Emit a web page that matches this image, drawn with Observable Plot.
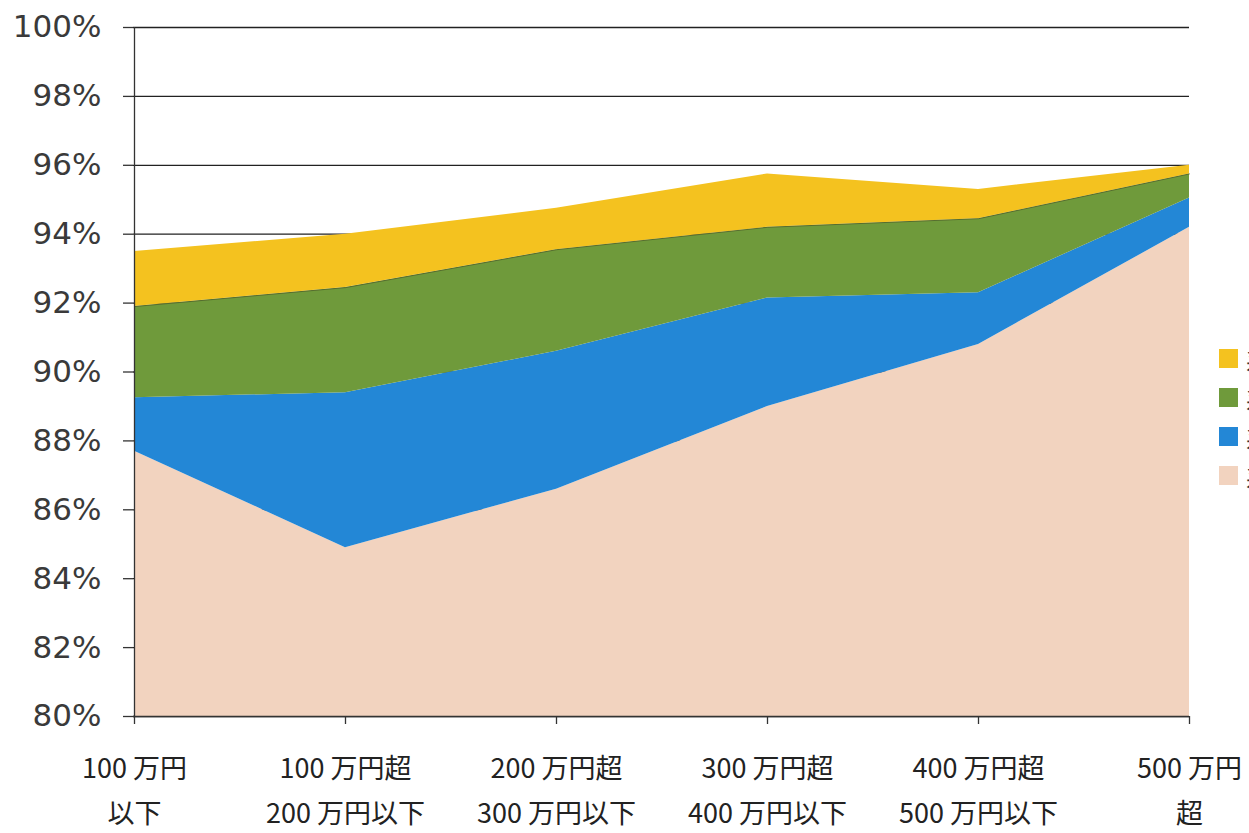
<!DOCTYPE html>
<html>
<head>
<meta charset="utf-8">
<script src="https://cdn.jsdelivr.net/npm/d3@7"></script>
<script src="https://cdn.jsdelivr.net/npm/@observablehq/plot@0.6"></script>
<style>
  html, body { margin: 0; padding: 0; background: #fff; overflow: hidden; width: 1249px; height: 833px; }
  #wrap { position: relative; width: 1249px; height: 833px; }
  #legend { position: absolute; left: 1219px; top: 339px; font-family: "Noto Sans CJK JP", sans-serif; font-size: 22px; color: #333; white-space: nowrap; }
  #legend .row { display: flex; align-items: center; height: 39px; }
  #legend .sw { width: 19px; height: 19px; margin-right: 8px; flex: none; }
</style>
</head>
<body>
<div id="wrap"><div id="chart"></div><div id="legend"></div></div>
<script>
const categories = ["100 万円\n以下", "100 万円超\n200 万円以下", "200 万円超\n300 万円以下", "300 万円超\n400 万円以下", "400 万円超\n500 万円以下", "500 万円\n超"];
// series from bottom to top of the stack
const seriesNames = ["系列1", "系列2", "系列3", "系列4"];
const seriesColors = ["#f2d3bf", "#2387d6", "#6f9a3b", "#f4c21f"];
const s1 = [87.7, 84.9, 86.6, 89.0, 90.8, 94.2];
const s2 = [1.55, 4.5, 4.0, 3.15, 1.5, 0.85];
const s3 = [2.65, 3.05, 2.95, 2.05, 2.15, 0.7];
const s4 = [1.6, 1.55, 1.2, 1.55, 0.85, 0.25];
const yTicks = [80, 82, 84, 86, 88, 90, 92, 94, 96, 98, 100];

const seriesValues = [s1, s2, s3, s4];
const data = [];
seriesNames.forEach((name, i) => {
  categories.forEach((c, j) => data.push({cat: c, series: name, value: seriesValues[i][j]}));
});
const greenTop = categories.map((c, j) => ({cat: c, value: s1[j] + s2[j] + s3[j]}));

const chart = Plot.plot({
  width: 1249,
  height: 833,
  marginTop: 27,
  marginBottom: 117,
  marginLeft: 133,
  marginRight: 60,
  style: {background: "#fff"},
  x: {type: "point", domain: categories, padding: 0},
  y: {domain: [80, 100]},
  color: {domain: seriesNames, range: seriesColors},
  marks: [
    Plot.ruleY(yTicks, {stroke: "#222", strokeWidth: 1.3}),
    Plot.areaY(data, {x: "cat", y: "value", fill: "series", z: "series", order: seriesNames, clip: true}),
    Plot.lineY(greenTop, {x: "cat", y: "value", stroke: "#4b5a2a", strokeWidth: 1, strokeOpacity: 0.7}),
    Plot.ruleX([categories[0]], {stroke: "#333", strokeWidth: 1.3}),
    Plot.ruleY([80], {stroke: "#333", strokeWidth: 1.3}),
    Plot.axisY({ticks: yTicks, tickFormat: d => d + "%", tickSize: 10, tickPadding: 22, fontSize: 31, fontFamily: "DejaVu Sans", fill: "#3a3a3a", stroke: "#333", strokeWidth: 1.3, label: null}),
    Plot.axisX({tickSize: 8, tickPadding: 22, fontSize: 27, lineHeight: 1.66, fontFamily: "Noto Sans CJK JP", fill: "#222", stroke: "#333", strokeWidth: 1.3, label: null})
  ]
});
document.getElementById("chart").appendChild(chart);

const legend = document.getElementById("legend");
[...seriesNames].reverse().forEach((name, k) => {
  const i = seriesNames.length - 1 - k;
  const row = document.createElement("div");
  row.className = "row";
  const sw = document.createElement("span");
  sw.className = "sw";
  sw.style.background = seriesColors[i];
  const t = document.createElement("span");
  t.textContent = name;
  row.appendChild(sw);
  row.appendChild(t);
  legend.appendChild(row);
});
</script>
</body>
</html>
